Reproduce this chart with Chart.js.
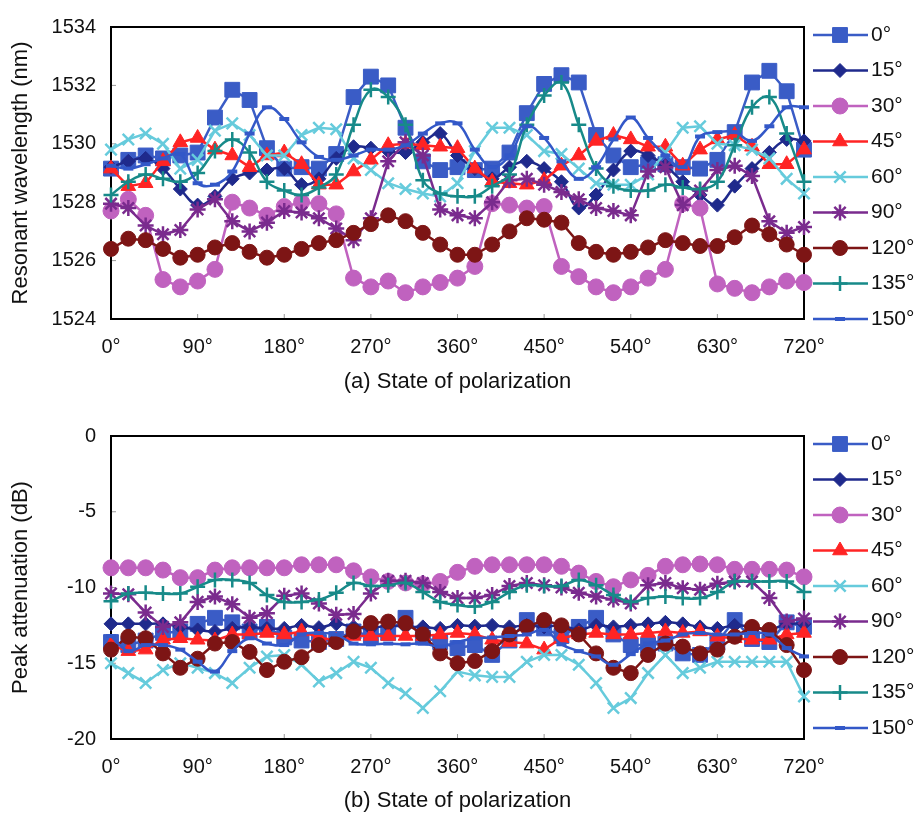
<!DOCTYPE html>
<html>
<head>
<meta charset="utf-8">
<script src="https://cdn.jsdelivr.net/npm/chart.js@4.4.1/dist/chart.umd.min.js"></script>
<style>
    body { margin: 0; background: #fff; }
    #wrap { position: relative; width: 919px; height: 815px; }
    canvas { position: absolute; left: 0; }
</style>
</head>
<body>
<div id="wrap">
    <canvas id="topChart" width="919" height="400" style="top:0"></canvas>
    <canvas id="bottomChart" width="919" height="415" style="top:400px"></canvas>
</div>
<script>
// x positions (state of polarization, degrees)
const angles = [0, 18, 36, 54, 72, 90, 108, 126, 144, 162, 180, 198, 216, 234, 252, 270, 288, 306, 324, 342,
    360, 378, 396, 414, 432, 450, 468, 486, 504, 522, 540, 558, 576, 594, 612, 630, 648, 666, 684, 702, 720];
const seriesNames = ['0°', '15°', '30°', '45°', '60°', '90°', '120°', '135°', '150°'];

// (a) resonant wavelength, nm
const wl0 = [1529.15, 1529.45, 1529.6, 1529.5, 1529.6, 1529.7, 1530.9, 1531.85, 1531.5, 1529.85, 1529.15, 1529.2, 1529.15, 1529.65, 1531.6, 1532.3, 1532.0, 1530.55, 1529.4, 1529.1,
    1529.2, 1529.1, 1529.15, 1529.7, 1531.05, 1532.05, 1532.35, 1532.1, 1530.3, 1529.6, 1529.2, 1529.3, 1529.3, 1529.2, 1529.15, 1529.45, 1530.4, 1532.1, 1532.5, 1531.8, 1529.8];
const wl15 = [1529.2, 1529.4, 1529.5, 1529.15, 1528.45, 1527.9, 1528.2, 1528.8, 1529.0, 1529.1, 1529.15, 1528.6, 1528.8, 1529.5, 1529.9, 1529.85, 1529.75, 1529.7, 1530.05, 1530.35,
    1529.6, 1529.15, 1528.8, 1529.2, 1529.4, 1529.15, 1528.7, 1527.8, 1528.25, 1529.1, 1529.75, 1529.6, 1529.25, 1528.7, 1528.25, 1527.9, 1528.55, 1529.15, 1529.7, 1530.15, 1530.1];
const wl30 = [1527.7, 1528.1, 1527.55, 1525.35, 1525.1, 1525.3, 1525.7, 1528.0, 1527.8, 1527.55, 1527.85, 1528.0, 1527.95, 1527.6, 1525.4, 1525.1, 1525.3, 1524.9, 1525.1, 1525.25,
    1525.4, 1525.8, 1527.95, 1527.9, 1527.8, 1527.85, 1525.8, 1525.45, 1525.1, 1524.9, 1525.1, 1525.4, 1525.7, 1527.95, 1527.8, 1525.2, 1525.05, 1524.9, 1525.1, 1525.3, 1525.25];
const wl45 = [1529.15, 1528.55, 1528.65, 1529.4, 1530.05, 1530.2, 1529.8, 1529.6, 1529.2, 1529.6, 1529.7, 1529.3, 1528.6, 1528.6, 1529.05, 1529.45, 1529.95, 1530.0, 1529.95, 1529.9,
    1529.85, 1529.15, 1528.7, 1528.65, 1528.6, 1528.75, 1529.25, 1529.6, 1530.1, 1530.3, 1530.15, 1529.9, 1529.9, 1529.25, 1529.8, 1530.15, 1530.3, 1529.9, 1529.3, 1529.3, 1529.8];
const wl60 = [1529.8, 1530.15, 1530.35, 1530.0, 1529.15, 1529.45, 1530.45, 1530.7, 1530.3, 1529.6, 1529.6, 1530.3, 1530.55, 1530.5, 1529.5, 1529.1, 1528.65, 1528.45, 1528.3, 1528.2,
    1528.65, 1529.75, 1530.55, 1530.55, 1530.3, 1529.75, 1529.65, 1529.15, 1528.65, 1528.6, 1528.6, 1528.95, 1529.7, 1530.55, 1530.6, 1530.0, 1529.95, 1529.8, 1529.5, 1528.8, 1528.3];
const wl90 = [1527.95, 1527.8, 1527.2, 1526.9, 1527.05, 1527.75, 1528.1, 1527.35, 1527.0, 1527.3, 1527.7, 1527.65, 1527.45, 1527.1, 1526.7, 1527.45, 1529.4, 1530.05, 1529.6, 1527.75,
    1527.55, 1527.45, 1528.0, 1528.75, 1528.8, 1528.6, 1528.35, 1528.1, 1527.8, 1527.7, 1527.55, 1529.05, 1529.2, 1527.9, 1528.4, 1529.1, 1529.25, 1528.9, 1527.35, 1526.95, 1527.15];
const wl120 = [1526.4, 1526.75, 1526.7, 1526.4, 1526.1, 1526.2, 1526.45, 1526.6, 1526.3, 1526.1, 1526.2, 1526.4, 1526.6, 1526.7, 1526.95, 1527.25, 1527.55, 1527.35, 1526.95, 1526.55,
    1526.2, 1526.2, 1526.55, 1527.0, 1527.45, 1527.4, 1527.3, 1526.6, 1526.3, 1526.2, 1526.3, 1526.45, 1526.7, 1526.6, 1526.5, 1526.5, 1526.8, 1527.2, 1526.9, 1526.55, 1526.2];
const wl135 = [1528.25, 1528.7, 1528.95, 1528.8, 1528.7, 1529.0, 1529.75, 1530.15, 1529.7, 1528.7, 1528.4, 1528.25, 1528.5, 1528.95, 1530.65, 1531.85, 1531.6, 1530.65, 1528.75, 1528.3,
    1528.2, 1528.2, 1528.55, 1528.95, 1530.65, 1531.65, 1532.1, 1530.65, 1529.15, 1528.55, 1528.4, 1528.4, 1528.6, 1528.5, 1528.45, 1528.7, 1529.95, 1531.25, 1531.6, 1530.35, 1528.7];
const wl150 = [1529.25, 1529.15, 1529.3, 1529.5, 1529.65, 1528.65, 1528.6, 1529.05, 1530.35, 1531.25, 1530.85, 1530.05, 1529.55, 1529.45, 1529.6, 1529.8, 1529.8, 1529.95, 1530.35, 1530.7,
    1530.7, 1529.8, 1529.2, 1529.6, 1530.6, 1530.2, 1529.4, 1528.8, 1529.2, 1530.15, 1530.9, 1530.2, 1529.6, 1529.2, 1530.25, 1530.4, 1530.4, 1530.1, 1530.6, 1531.25, 1531.25];

// (b) peak attenuation, dB
const pa0 = [-13.6, -13.8, -13.5, -13.0, -12.9, -12.4, -12.0, -12.3, -12.9, -12.6, -13.3, -13.5, -13.6, -13.4, -12.9, -13.2, -13.0, -12.0, -13.3, -13.6,
    -14.0, -13.8, -14.45, -13.5, -12.15, -12.7, -13.2, -12.6, -12.0, -13.1, -13.8, -13.8, -13.7, -14.35, -14.45, -13.6, -12.15, -13.4, -13.6, -12.3, -12.6];
const pa15 = [-12.4, -12.4, -12.4, -12.4, -12.6, -12.8, -12.9, -12.7, -12.6, -12.7, -12.7, -12.5, -12.65, -12.4, -12.6, -12.7, -12.5, -12.6, -12.6, -12.7,
    -12.5, -12.55, -12.5, -12.6, -12.5, -12.6, -12.5, -12.8, -12.5, -12.6, -12.5, -12.4, -12.3, -12.4, -12.6, -12.7, -12.5, -12.6, -12.8, -12.4, -12.4];
const pa30 = [-8.7, -8.7, -8.7, -8.85, -9.35, -9.35, -8.85, -8.7, -8.7, -8.7, -8.7, -8.5, -8.5, -8.5, -8.9, -9.3, -9.6, -9.7, -9.8, -9.6,
    -9.0, -8.6, -8.5, -8.5, -8.5, -8.5, -8.6, -9.05, -9.6, -9.95, -9.5, -9.2, -8.6, -8.5, -8.45, -8.5, -8.8, -8.8, -8.8, -8.85, -9.3];
const pa45 = [-13.8, -14.2, -14.1, -13.45, -13.35, -13.45, -13.5, -13.1, -13.1, -13.0, -13.1, -12.9, -13.3, -13.5, -13.2, -13.2, -13.2, -13.2, -13.2, -13.1,
    -13.0, -13.1, -13.45, -13.6, -13.7, -14.1, -13.35, -13.1, -13.0, -13.1, -13.1, -13.0, -12.9, -13.0, -12.9, -13.25, -13.35, -13.45, -13.45, -13.1, -13.0];
const pa60 = [-15.0, -15.65, -16.3, -15.45, -15.0, -15.3, -15.65, -16.3, -15.3, -14.55, -14.45, -15.1, -16.2, -15.65, -14.9, -15.3, -16.3, -17.0, -17.95, -16.85,
    -15.55, -15.8, -15.9, -15.9, -14.9, -14.45, -14.45, -15.1, -16.3, -17.95, -17.3, -15.65, -14.45, -15.65, -15.3, -14.9, -14.9, -14.9, -14.9, -14.9, -17.2];
const pa90 = [-10.4, -10.45, -11.65, -12.6, -12.3, -10.95, -10.6, -11.1, -12.0, -11.7, -10.55, -10.4, -11.05, -11.8, -11.75, -10.4, -9.55, -9.55, -9.7, -10.3,
    -10.7, -10.7, -10.5, -9.9, -9.7, -9.85, -10.0, -10.35, -10.6, -10.8, -11.05, -9.85, -9.7, -10.05, -10.15, -9.75, -9.6, -9.6, -10.7, -12.25, -12.05];
const pa120 = [-14.1, -13.25, -13.35, -14.35, -15.3, -14.7, -13.7, -13.6, -14.25, -15.45, -14.9, -14.6, -13.8, -13.6, -12.9, -12.35, -12.25, -12.35, -13.1, -14.35,
    -15.0, -14.85, -14.2, -13.1, -12.6, -12.15, -12.5, -13.1, -14.35, -15.3, -15.65, -14.45, -13.7, -13.9, -14.35, -14.1, -13.25, -12.6, -12.8, -13.8, -15.45];
const pa135 = [-10.9, -10.4, -10.35, -10.4, -10.4, -9.95, -9.5, -9.5, -9.7, -10.5, -10.95, -10.95, -10.8, -10.35, -9.7, -9.9, -9.85, -9.7, -10.3, -10.95,
    -11.15, -11.25, -10.95, -10.3, -9.85, -9.9, -9.9, -9.5, -9.85, -10.5, -10.95, -10.7, -10.6, -10.7, -10.7, -10.3, -9.6, -9.6, -9.6, -9.6, -10.3];
const pa150 = [-13.2, -14.2, -13.8, -13.8, -14.1, -14.9, -15.55, -14.2, -13.35, -13.7, -13.8, -13.1, -13.0, -13.1, -13.7, -13.75, -13.7, -13.75, -13.7, -13.9,
    -13.6, -13.35, -13.3, -13.2, -13.1, -12.8, -13.75, -14.2, -14.55, -15.1, -14.4, -13.7, -13.5, -13.1, -13.0, -13.1, -13.1, -13.0, -13.1, -14.0, -14.55];

// series styling
const seriesColors = ['#3a5cc6', '#1f2a8c', '#c062bf', '#ff2424', '#66cbdc', '#7a2b8e', '#7d1515', '#178a89', '#3358c8'];
const markerStyles = ['rect', 'rectRot', 'circle', 'triangle', 'crossRot', 'star', 'circle', 'cross', 'line'];
const markerSizes = [10.5, 7, 8, 8.5, 8, 8, 7.5, 7.5, 5];
const markerBorders = [1, 1, 1, 1, 2.5, 2.5, 1, 2.5, 4];
const smoothSeries = [false, true, false, false, false, false, false, true, true];

const fontFamily = '"Liberation Sans", Arial, sans-serif';
Chart.defaults.font.family = fontFamily;
Chart.defaults.font.size = 20;
Chart.defaults.color = '#111';

function buildDatasets(rows) {
    return seriesNames.map((name, i) => ({
        label: name,
        data: rows[i].map((v, k) => ({ x: angles[k], y: v })),
        borderColor: seriesColors[i],
        backgroundColor: seriesColors[i],
        pointStyle: markerStyles[i],
        pointRadius: markerSizes[i],
        pointBorderWidth: markerBorders[i],
        pointBackgroundColor: seriesColors[i],
        pointBorderColor: seriesColors[i],
        borderWidth: 2.5,
        tension: smoothSeries[i] ? 0.4 : 0,
        clip: false,
        order: seriesNames.length - i
    }));
}

// plot frame + small inward tick marks
const framePlugin = {
    id: 'frame',
    beforeDatasetsDraw(chart) {
        const { ctx, chartArea: a, scales } = chart;
        ctx.save();
        ctx.strokeStyle = '#999';
        ctx.lineWidth = 1;
        scales.x.ticks.forEach(t => {
            const px = scales.x.getPixelForValue(t.value);
            ctx.beginPath(); ctx.moveTo(px, a.bottom); ctx.lineTo(px, a.bottom - 5); ctx.stroke();
        });
        scales.y.ticks.forEach(t => {
            const py = scales.y.getPixelForValue(t.value);
            ctx.beginPath(); ctx.moveTo(a.left, py); ctx.lineTo(a.left + 5, py); ctx.stroke();
        });
        ctx.strokeStyle = '#000';
        ctx.lineWidth = 2;
        ctx.strokeRect(a.left, a.top, a.right - a.left, a.bottom - a.top);
        ctx.restore();
    }
};

// legend on the right: line sample with marker, then label
const sideLegend = {
    id: 'sideLegend',
    afterDraw(chart) {
        const { ctx, chartArea: a } = chart;
        ctx.save();
        chart.data.datasets.forEach((ds, i) => {
            const y = a.top + 8 + i * 35.5;
            ctx.strokeStyle = ds.borderColor;
            ctx.fillStyle = ds.borderColor;
            ctx.lineWidth = 2.5;
            ctx.beginPath(); ctx.moveTo(813, y); ctx.lineTo(868, y); ctx.stroke();
            ctx.lineWidth = ds.pointBorderWidth;
            Chart.helpers.drawPoint(ctx, {
                pointStyle: ds.pointStyle, radius: ds.pointRadius,
                borderWidth: ds.pointBorderWidth, rotation: 0
            }, 840, y);
            ctx.fillStyle = '#111';
            ctx.font = '21px ' + fontFamily;
            ctx.textAlign = 'left';
            ctx.textBaseline = 'middle';
            ctx.fillText(ds.label, 871, y);
        });
        ctx.restore();
    }
};

function makeChart(id, rows, yMin, yMax, yStep, yTitle, xTitle, padTop, xHeight, titlePad) {
    return new Chart(document.getElementById(id), {
        type: 'line',
        data: { datasets: buildDatasets(rows) },
        options: {
            responsive: false,
            animation: false,
            layout: { padding: { top: padTop, right: 115, left: 0, bottom: 0 } },
            plugins: { legend: { display: false }, tooltip: { enabled: false } },
            scales: {
                x: {
                    type: 'linear', min: 0, max: 720,
                    grid: { display: false, drawTicks: false },
                    border: { display: false },
                    ticks: { stepSize: 90, padding: 16, color: '#111', callback: v => v + '°' },
                    title: { display: true, text: xTitle, color: '#111', font: { size: 22 }, padding: { top: 0, bottom: titlePad } },
                    afterFit: s => { s.height = xHeight; }
                },
                y: {
                    min: yMin, max: yMax,
                    grid: { display: false, drawTicks: false },
                    border: { display: false },
                    ticks: { stepSize: yStep, padding: 15, color: '#111', callback: v => String(v) },
                    title: { display: true, text: yTitle, color: '#111', font: { size: 22 }, padding: { top: 8, bottom: 0 } },
                    afterFit: s => { s.width = 111; }
                }
            }
        },
        plugins: [framePlugin, sideLegend]
    });
}

makeChart('topChart', [wl0, wl15, wl30, wl45, wl60, wl90, wl120, wl135, wl150],
    1524, 1534, 2, 'Resonant wavelength (nm)', '(a) State of polarization', 17, 81, 5);
makeChart('bottomChart', [pa0, pa15, pa30, pa45, pa60, pa90, pa120, pa135, pa150],
    -20, 0, 5, 'Peak attenuation (dB)', '(b) State of polarization', 36, 76, 1);
</script>
</body>
</html>
